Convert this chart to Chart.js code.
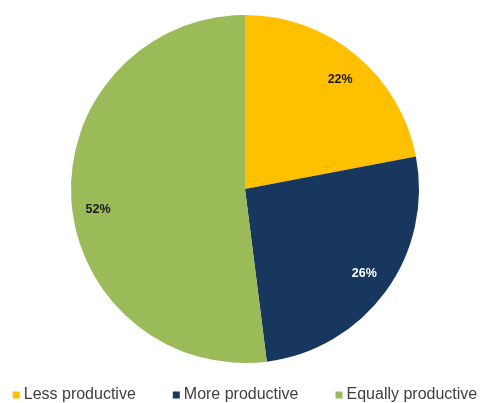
<!DOCTYPE html>
<html>
<head>
<meta charset="utf-8">
<script src="https://cdn.jsdelivr.net/npm/chart.js@4"></script>
<style>
  html, body { margin: 0; padding: 0; background: #fff; }
  #wrap { width: 480px; height: 403px; }
</style>
</head>
<body>
<div id="wrap"><canvas id="pie"></canvas></div>
<script>
const categories = ["Less productive", "More productive", "Equally productive"];
const shares = [22, 26, 52];
const sliceColors = ["#FFC000", "#17375E", "#9BBB59"];
const labelColors = ["#1a1a1a", "#ffffff", "#1a1a1a"];

const FONT = "'Liberation Sans', Arial, sans-serif";

// percentage text drawn inside each slice, with a small per-slice nudge
const labelNudge = [[2, 3], [1, -1], [-1, 11]];
const sliceLabels = {
  id: "sliceLabels",
  afterDatasetsDraw(chart) {
    const ctx = chart.ctx;
    const meta = chart.getDatasetMeta(0);
    ctx.save();
    ctx.font = "bold 12.5px " + FONT;
    ctx.textAlign = "center";
    ctx.textBaseline = "middle";
    meta.data.forEach((arc, i) => {
      const mid = (arc.startAngle + arc.endAngle) / 2;
      const r = arc.outerRadius * 0.84;
      ctx.fillStyle = labelColors[i];
      ctx.fillText(shares[i] + "%",
        arc.x + Math.cos(mid) * r + labelNudge[i][0],
        arc.y + Math.sin(mid) * r + labelNudge[i][1]);
    });
    ctx.restore();
  }
};

// single-row legend under the pie, small square swatches, centred
const bottomLegend = {
  id: "bottomLegend",
  afterDraw(chart) {
    const ctx = chart.ctx;
    const box = 7, gapText = 4, gapItem = 37;
    ctx.save();
    ctx.font = "16px " + FONT;
    ctx.textBaseline = "middle";
    const widths = chart.data.labels.map(t => ctx.measureText(t).width);
    const total = widths.reduce((s, w) => s + box + gapText + w, 0) + gapItem * (widths.length - 1);
    const cx = (chart.chartArea.left + chart.chartArea.right) / 2;
    const y = chart.chartArea.bottom + 32;
    let x = cx - total / 2;
    chart.data.labels.forEach((t, i) => {
      ctx.fillStyle = chart.data.datasets[0].backgroundColor[i];
      ctx.fillRect(x, y - box / 2, box, box);
      x += box + gapText;
      ctx.fillStyle = "#404040";
      ctx.fillText(t, x, y);
      x += widths[i] + gapItem;
    });
    ctx.restore();
  }
};

new Chart(document.getElementById("pie"), {
  type: "pie",
  data: {
    labels: categories,
    datasets: [{
      data: shares,
      backgroundColor: sliceColors,
      borderWidth: 0,
    }],
  },
  options: {
    responsive: true,
    maintainAspectRatio: false,
    animation: false,
    layout: { padding: { top: 15, bottom: 40, left: 10, right: 0 } },
    plugins: {
      tooltip: { enabled: false },
      legend: { display: false },
    },
  },
  plugins: [sliceLabels, bottomLegend],
});
</script>
</body>
</html>
